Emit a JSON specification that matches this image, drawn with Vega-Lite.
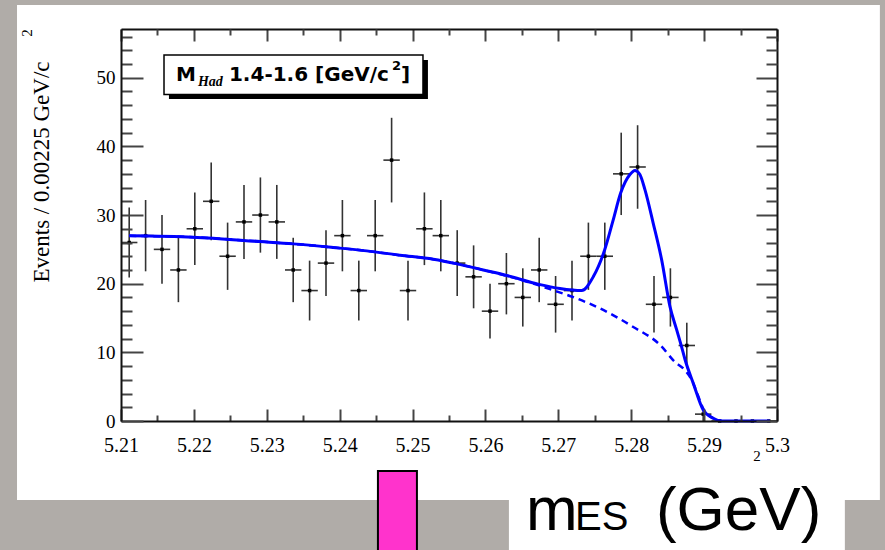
{
  "$schema": "https://vega.github.io/schema/vega-lite/v6.json",
  "width": 656,
  "height": 392,
  "autosize": "none",
  "padding": {"left": 121, "top": 29, "right": 108, "bottom": 129},
  "background": "#b0aca8",
  "config": {"view": {"stroke": null}, "axis": {"grid": false, "zindex": 1}},
  "datasets": {
    "one": [{}],
    "bins": [
      {"c": 5.211125, "lo": 5.21, "hi": 5.21225, "n": 26, "down": 20.901, "up": 31.099},
      {"c": 5.213375, "lo": 5.21225, "hi": 5.2145, "n": 27, "down": 21.804, "up": 32.196},
      {"c": 5.215625, "lo": 5.2145, "hi": 5.21675, "n": 25, "down": 20.0, "up": 30.0},
      {"c": 5.217875, "lo": 5.21675, "hi": 5.219, "n": 22, "down": 17.310, "up": 26.690},
      {"c": 5.220125, "lo": 5.219, "hi": 5.22125, "n": 28, "down": 22.708, "up": 33.292},
      {"c": 5.222375, "lo": 5.22125, "hi": 5.2235, "n": 32, "down": 26.343, "up": 37.657},
      {"c": 5.224625, "lo": 5.2235, "hi": 5.22575, "n": 24, "down": 19.101, "up": 28.899},
      {"c": 5.226875, "lo": 5.22575, "hi": 5.228, "n": 29, "down": 23.615, "up": 34.385},
      {"c": 5.229125, "lo": 5.228, "hi": 5.23025, "n": 30, "down": 24.523, "up": 35.477},
      {"c": 5.231375, "lo": 5.23025, "hi": 5.2325, "n": 29, "down": 23.615, "up": 34.385},
      {"c": 5.233625, "lo": 5.2325, "hi": 5.23475, "n": 22, "down": 17.310, "up": 26.690},
      {"c": 5.235875, "lo": 5.23475, "hi": 5.237, "n": 19, "down": 14.641, "up": 23.359},
      {"c": 5.238125, "lo": 5.237, "hi": 5.23925, "n": 23, "down": 18.204, "up": 27.796},
      {"c": 5.240375, "lo": 5.23925, "hi": 5.2415, "n": 27, "down": 21.804, "up": 32.196},
      {"c": 5.242625, "lo": 5.2415, "hi": 5.24375, "n": 19, "down": 14.641, "up": 23.359},
      {"c": 5.244875, "lo": 5.24375, "hi": 5.246, "n": 27, "down": 21.804, "up": 32.196},
      {"c": 5.247125, "lo": 5.246, "hi": 5.24825, "n": 38, "down": 31.836, "up": 44.164},
      {"c": 5.249375, "lo": 5.24825, "hi": 5.2505, "n": 19, "down": 14.641, "up": 23.359},
      {"c": 5.251625, "lo": 5.2505, "hi": 5.25275, "n": 28, "down": 22.708, "up": 33.292},
      {"c": 5.253875, "lo": 5.25275, "hi": 5.255, "n": 27, "down": 21.804, "up": 32.196},
      {"c": 5.256125, "lo": 5.255, "hi": 5.25725, "n": 23, "down": 18.204, "up": 27.796},
      {"c": 5.258375, "lo": 5.25725, "hi": 5.2595, "n": 21, "down": 16.417, "up": 25.583},
      {"c": 5.260625, "lo": 5.2595, "hi": 5.26175, "n": 16, "down": 12.0, "up": 20.0},
      {"c": 5.262875, "lo": 5.26175, "hi": 5.264, "n": 20, "down": 15.528, "up": 24.472},
      {"c": 5.265125, "lo": 5.264, "hi": 5.26625, "n": 18, "down": 13.757, "up": 22.243},
      {"c": 5.267375, "lo": 5.26625, "hi": 5.2685, "n": 22, "down": 17.310, "up": 26.690},
      {"c": 5.269625, "lo": 5.2685, "hi": 5.27075, "n": 17, "down": 12.877, "up": 21.123},
      {"c": 5.271875, "lo": 5.27075, "hi": 5.273, "n": 19, "down": 14.641, "up": 23.359},
      {"c": 5.274125, "lo": 5.273, "hi": 5.27525, "n": 24, "down": 19.101, "up": 28.899},
      {"c": 5.276375, "lo": 5.27525, "hi": 5.2775, "n": 24, "down": 19.101, "up": 28.899},
      {"c": 5.278625, "lo": 5.2775, "hi": 5.27975, "n": 36, "down": 30.0, "up": 42.0},
      {"c": 5.280875, "lo": 5.27975, "hi": 5.282, "n": 37, "down": 30.917, "up": 43.083},
      {"c": 5.283125, "lo": 5.282, "hi": 5.28425, "n": 17, "down": 12.877, "up": 21.123},
      {"c": 5.285375, "lo": 5.28425, "hi": 5.2865, "n": 18, "down": 13.757, "up": 22.243},
      {"c": 5.287625, "lo": 5.2865, "hi": 5.28875, "n": 11, "down": 7.683, "up": 14.317},
      {"c": 5.289875, "lo": 5.28875, "hi": 5.291, "n": 1, "down": 0.0, "up": 2.0},
      {"c": 5.292125, "lo": 5.291, "hi": 5.29325, "n": 0, "down": 0, "up": 0},
      {"c": 5.294375, "lo": 5.29325, "hi": 5.2955, "n": 0, "down": 0, "up": 0},
      {"c": 5.296625, "lo": 5.2955, "hi": 5.29775, "n": 0, "down": 0, "up": 0},
      {"c": 5.298875, "lo": 5.29775, "hi": 5.3, "n": 0, "down": 0, "up": 0}
    ],
    "total": [
      {"m": 5.21114, "f": 26.97}, {"m": 5.21992, "f": 26.78}, {"m": 5.22907, "f": 26.14},
      {"m": 5.23364, "f": 25.80}, {"m": 5.23912, "f": 25.27}, {"m": 5.24370, "f": 24.78},
      {"m": 5.24827, "f": 24.15}, {"m": 5.25284, "f": 23.57}, {"m": 5.25613, "f": 22.89},
      {"m": 5.25970, "f": 22.00}, {"m": 5.26291, "f": 21.20}, {"m": 5.26734, "f": 19.90},
      {"m": 5.27022, "f": 19.30}, {"m": 5.27320, "f": 19.00}, {"m": 5.27479, "f": 21.00},
      {"m": 5.27635, "f": 24.90}, {"m": 5.27753, "f": 29.30}, {"m": 5.27855, "f": 33.20},
      {"m": 5.27982, "f": 35.90}, {"m": 5.28051, "f": 36.50}, {"m": 5.28119, "f": 35.90},
      {"m": 5.28188, "f": 33.70}, {"m": 5.28302, "f": 28.80}, {"m": 5.28417, "f": 23.50},
      {"m": 5.28531, "f": 16.70}, {"m": 5.28623, "f": 13.30}, {"m": 5.28691, "f": 10.80},
      {"m": 5.28737, "f": 9.00}, {"m": 5.28851, "f": 5.50}, {"m": 5.28988, "f": 1.60},
      {"m": 5.29125, "f": 0.40}, {"m": 5.29240, "f": 0.00}, {"m": 5.29903, "f": 0.00}
    ],
    "background": [
      {"m": 5.21114, "f": 26.97}, {"m": 5.21992, "f": 26.78}, {"m": 5.22907, "f": 26.14},
      {"m": 5.23364, "f": 25.80}, {"m": 5.23912, "f": 25.27}, {"m": 5.24370, "f": 24.78},
      {"m": 5.24827, "f": 24.15}, {"m": 5.25284, "f": 23.57}, {"m": 5.25613, "f": 22.89},
      {"m": 5.25970, "f": 22.00}, {"m": 5.26291, "f": 21.15}, {"m": 5.26734, "f": 19.75},
      {"m": 5.26885, "f": 19.20}, {"m": 5.27191, "f": 18.10}, {"m": 5.27571, "f": 16.40},
      {"m": 5.28028, "f": 13.70}, {"m": 5.28394, "f": 11.10}, {"m": 5.28600, "f": 8.60},
      {"m": 5.28737, "f": 7.40}, {"m": 5.28829, "f": 6.00}, {"m": 5.28920, "f": 3.60},
      {"m": 5.28988, "f": 1.80}, {"m": 5.29125, "f": 0.40}, {"m": 5.29240, "f": 0.00}
    ]
  },
  "resolve": {"axis": {"x": "independent", "y": "independent"}},
  "layer": [
    {
      "data": {"name": "one"},
      "mark": {"type": "rect", "fill": "#ffffff", "clip": false},
      "encoding": {
        "x": {"datum": 5.195734, "type": "quantitative", "scale": {"domain": [5.21, 5.3], "nice": false, "zero": false}, "axis": null},
        "x2": {"datum": 5.314115},
        "y": {"datum": 60.6, "type": "quantitative", "scale": {"domain": [0, 57.1], "nice": false, "zero": false}, "axis": null},
        "y2": {"datum": -11.51}
      }
    },
    {
      "data": {"name": "one"},
      "mark": {"type": "rect", "fill": "#ffffff", "clip": false},
      "encoding": {
        "x": {"datum": 5.26322, "type": "quantitative", "axis": null},
        "x2": {"datum": 5.30931},
        "y": {"datum": -11.51, "type": "quantitative", "axis": null},
        "y2": {"datum": -20}
      }
    },
    {
      "data": {"name": "one"},
      "mark": {"type": "rect", "fill": "#ff33cc", "stroke": "#000000", "strokeWidth": 2, "clip": false},
      "encoding": {
        "x": {"datum": 5.24525, "type": "quantitative", "axis": null},
        "x2": {"datum": 5.2506},
        "y": {"datum": -7.283, "type": "quantitative", "axis": null},
        "y2": {"datum": -20}
      }
    },
    {
      "data": {"name": "one"},
      "mark": {"type": "rect", "fill": "#000000"},
      "encoding": {
        "x": {"datum": 5.21658, "type": "quantitative", "axis": null},
        "x2": {"datum": 5.25211},
        "y": {"datum": 52.58, "type": "quantitative", "axis": null},
        "y2": {"datum": 46.9}
      }
    },
    {
      "data": {"name": "one"},
      "mark": {"type": "rect", "fill": "#ffffff", "stroke": "#000000", "strokeWidth": 1.5},
      "encoding": {
        "x": {"datum": 5.2159, "type": "quantitative", "axis": null},
        "x2": {"datum": 5.25143},
        "y": {"datum": 53.31, "type": "quantitative", "axis": null},
        "y2": {"datum": 47.56}
      }
    },
    {
      "data": {"name": "one"},
      "mark": {"type": "text", "text": "M", "font": "DejaVu Sans", "fontWeight": "bold", "fontSize": 20, "align": "left", "baseline": "alphabetic", "color": "#000000"},
      "encoding": {
        "x": {"datum": 5.21754, "type": "quantitative", "axis": null},
        "y": {"datum": 49.53, "type": "quantitative", "axis": null}
      }
    },
    {
      "data": {"name": "one"},
      "mark": {"type": "text", "text": "Had", "font": "Liberation Serif", "fontStyle": "italic", "fontWeight": "bold", "fontSize": 14, "align": "left", "baseline": "alphabetic", "color": "#000000"},
      "encoding": {
        "x": {"datum": 5.22056, "type": "quantitative", "axis": null},
        "y": {"datum": 48.8, "type": "quantitative", "axis": null}
      }
    },
    {
      "data": {"name": "one"},
      "mark": {"type": "text", "text": "1.4-1.6 [GeV/c", "font": "DejaVu Sans", "fontWeight": "bold", "fontSize": 20, "align": "left", "baseline": "alphabetic", "color": "#000000"},
      "encoding": {
        "x": {"datum": 5.22481, "type": "quantitative", "axis": null},
        "y": {"datum": 49.53, "type": "quantitative", "axis": null}
      }
    },
    {
      "data": {"name": "one"},
      "mark": {"type": "text", "text": "2", "font": "DejaVu Sans", "fontWeight": "bold", "fontSize": 13, "align": "left", "baseline": "alphabetic", "color": "#000000"},
      "encoding": {
        "x": {"datum": 5.24717, "type": "quantitative", "axis": null},
        "y": {"datum": 51.13, "type": "quantitative", "axis": null}
      }
    },
    {
      "data": {"name": "one"},
      "mark": {"type": "text", "text": "]", "font": "DejaVu Sans", "fontWeight": "bold", "fontSize": 20, "align": "left", "baseline": "alphabetic", "color": "#000000"},
      "encoding": {
        "x": {"datum": 5.24841, "type": "quantitative", "axis": null},
        "y": {"datum": 49.53, "type": "quantitative", "axis": null}
      }
    },
    {
      "data": {"name": "bins"},
      "mark": {"type": "rule", "color": "#333333", "strokeWidth": 1.6},
      "encoding": {
        "x": {"field": "lo", "type": "quantitative", "axis": {"orient": "top", "values": [5.21, 5.22, 5.23, 5.24, 5.25, 5.26, 5.27, 5.28, 5.29, 5.3], "labels": false, "tickSize": -12, "tickWidth": 2, "tickColor": "#444444", "domainColor": "#111111", "domainWidth": 2, "title": null, "zindex": 1}},
        "x2": {"field": "hi"},
        "y": {"field": "n", "type": "quantitative", "axis": {"orient": "right", "values": [0, 10, 20, 30, 40, 50], "labels": false, "tickSize": -21, "tickWidth": 2, "tickColor": "#444444", "domainColor": "#111111", "domainWidth": 2, "title": null, "zindex": 1}}
      }
    },
    {
      "data": {"name": "bins"},
      "mark": {"type": "rule", "color": "#333333", "strokeWidth": 1.6},
      "encoding": {
        "x": {"field": "c", "type": "quantitative", "axis": {"orient": "bottom", "values": [5.215, 5.225, 5.235, 5.245, 5.255, 5.265, 5.275, 5.285, 5.295], "labels": false, "domain": false, "tickSize": -6, "tickWidth": 2, "tickColor": "#444444", "title": null, "zindex": 1}},
        "y": {"field": "down", "type": "quantitative", "axis": {"orient": "left", "values": [2, 4, 6, 8, 12, 14, 16, 18, 22, 24, 26, 28, 32, 34, 36, 38, 42, 44, 46, 48, 52, 54, 56], "labels": false, "domain": false, "tickSize": -11, "tickWidth": 2, "tickColor": "#444444", "title": null, "zindex": 1}},
        "y2": {"field": "up"}
      }
    },
    {
      "data": {"name": "bins"},
      "mark": {"type": "point", "shape": "square", "filled": true, "size": 12, "color": "#000000", "opacity": 1},
      "encoding": {
        "x": {"field": "c", "type": "quantitative", "axis": {"orient": "bottom", "values": [5.21, 5.22, 5.23, 5.24, 5.25, 5.26, 5.27, 5.28, 5.29, 5.3], "format": ".2~f", "tickSize": -12, "tickWidth": 2, "tickColor": "#444444", "domainColor": "#111111", "domainWidth": 2, "labelFont": "Liberation Serif", "labelFontSize": 20, "labelColor": "#000000", "labelPadding": 26, "labelFlush": false, "labelOverlap": false, "title": null, "zindex": 1}},
        "y": {"field": "n", "type": "quantitative", "axis": {"orient": "left", "values": [0, 10, 20, 30, 40, 50], "format": "d", "tickSize": -22, "tickWidth": 2, "tickColor": "#444444", "domainColor": "#111111", "domainWidth": 2, "labelFont": "Liberation Serif", "labelFontSize": 19, "labelColor": "#000000", "labelPadding": 28, "labelOverlap": false, "title": null, "zindex": 1}}
      }
    },
    {
      "data": {"name": "background"},
      "mark": {"type": "line", "color": "#0000ff", "strokeWidth": 2.5, "strokeDash": [7, 5], "interpolate": "monotone"},
      "encoding": {
        "x": {"field": "m", "type": "quantitative", "axis": null},
        "y": {"field": "f", "type": "quantitative", "axis": null}
      }
    },
    {
      "data": {"name": "total"},
      "mark": {"type": "line", "color": "#0000ff", "strokeWidth": 3, "interpolate": "monotone"},
      "encoding": {
        "x": {"field": "m", "type": "quantitative", "axis": {"orient": "top", "values": [5.215, 5.225, 5.235, 5.245, 5.255, 5.265, 5.275, 5.285, 5.295], "labels": false, "domain": false, "tickSize": -6, "tickWidth": 2, "tickColor": "#444444", "title": null, "zindex": 1}},
        "y": {"field": "f", "type": "quantitative", "axis": {"orient": "right", "values": [2, 4, 6, 8, 12, 14, 16, 18, 22, 24, 26, 28, 32, 34, 36, 38, 42, 44, 46, 48, 52, 54, 56], "labels": false, "domain": false, "tickSize": -11, "tickWidth": 2, "tickColor": "#444444", "title": null, "zindex": 1}}
      }
    },
    {
      "data": {"name": "one"},
      "mark": {"type": "text", "text": "Events / 0.00225 GeV/c", "font": "Liberation Serif", "fontSize": 23, "angle": 270, "align": "center", "baseline": "middle", "color": "#000000", "clip": false},
      "encoding": {
        "x": {"datum": 5.19916, "type": "quantitative", "axis": null},
        "y": {"datum": 36.27, "type": "quantitative", "axis": null}
      }
    },
    {
      "data": {"name": "one"},
      "mark": {"type": "text", "text": "2", "font": "Liberation Serif", "fontSize": 15, "angle": 270, "align": "center", "baseline": "middle", "color": "#000000"},
      "encoding": {
        "x": {"datum": 5.19711, "type": "quantitative", "axis": null},
        "y": {"datum": 56.52, "type": "quantitative", "axis": null}
      }
    },
    {
      "data": {"name": "one"},
      "mark": {"type": "text", "text": "2", "font": "Liberation Serif", "fontSize": 15, "align": "center", "baseline": "middle", "color": "#000000"},
      "encoding": {
        "x": {"datum": 5.29724, "type": "quantitative", "axis": null},
        "y": {"datum": -5.1, "type": "quantitative", "axis": null}
      }
    },
    {
      "data": {"name": "one"},
      "mark": {"type": "text", "text": "m", "font": "Liberation Sans", "fontSize": 62, "align": "left", "baseline": "alphabetic", "color": "#000000"},
      "encoding": {
        "x": {"datum": 5.26556, "type": "quantitative", "axis": null},
        "y": {"datum": -15.88, "type": "quantitative", "axis": null}
      }
    },
    {
      "data": {"name": "one"},
      "mark": {"type": "text", "text": "ES", "font": "Liberation Sans", "fontSize": 40, "align": "left", "baseline": "alphabetic", "color": "#000000"},
      "encoding": {
        "x": {"datum": 5.27228, "type": "quantitative", "axis": null},
        "y": {"datum": -15.88, "type": "quantitative", "axis": null}
      }
    },
    {
      "data": {"name": "one"},
      "mark": {"type": "text", "text": "(GeV)", "font": "Liberation Sans", "fontSize": 62, "align": "left", "baseline": "alphabetic", "color": "#000000"},
      "encoding": {
        "x": {"datum": 5.28339, "type": "quantitative", "axis": null},
        "y": {"datum": -15.88, "type": "quantitative", "axis": null}
      }
    }
  ]
}
